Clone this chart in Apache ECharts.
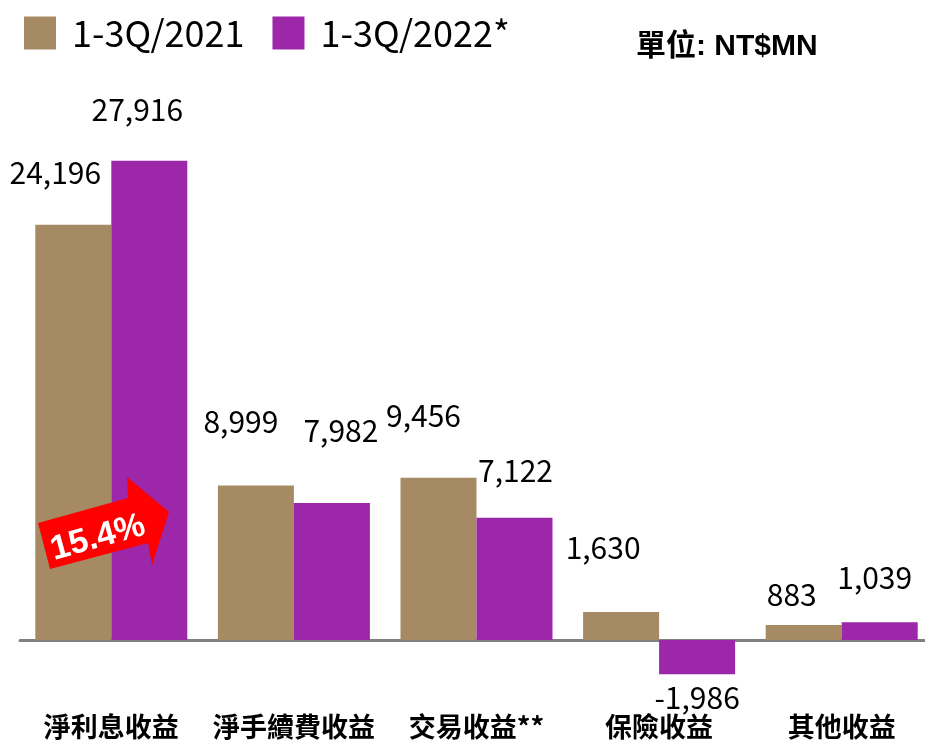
<!DOCTYPE html>
<html>
<head>
<meta charset="utf-8">
<script src="https://cdn.jsdelivr.net/npm/echarts@6/dist/echarts.min.js"></script>
<style>
  html, body { margin: 0; padding: 0; background: #fff; }
  #chart { width: 925px; height: 743px; }
</style>
</head>
<body>
<div id="chart"></div>
<script>
// 數據
var categories = ['淨利息收益', '淨手續費收益', '交易收益**', '保險收益', '其他收益'];
var seriesNames = ['1-3Q/2021', '1-3Q/2022*'];
var values2021 = [24196, 8999, 9456, 1630, 883];
var values2022 = [27916, 7982, 7122, -1986, 1039];

// 標籤位置微調 (跟原圖對齊)
var offsets2021 = [[-18, -37], [-15, -49], [-15, -47], [-18, -49], [-12, -15]];
var offsets2022 = [[-12, -36], [9, -57], [1, -32], [0, 8], [-5, -30]];

var cjk = '"Noto Sans CJK TC", "Noto Sans", sans-serif';

function buildData(vals, offs) {
    return vals.map(function (v, i) {
        return {
            value: v,
            label: {
                position: v < 0 ? 'bottom' : 'top',
                offset: offs[i]
            }
        };
    });
}

var labelStyle = {
    show: true,
    distance: 0,
    color: '#000',
    fontSize: 30,
    fontFamily: cjk,
    formatter: function (p) { return p.value.toLocaleString('en-US'); }
};

var myChart = echarts.init(document.getElementById('chart'));

var option = {
    animation: false,
    backgroundColor: '#fff',
    legend: {
        left: 19,
        top: 10,
        icon: 'rect',
        itemWidth: 32,
        itemHeight: 33,
        itemGap: 28,
        textStyle: { fontSize: 36, color: '#000', fontFamily: cjk, padding: [0, 0, 0, 11] },
        data: seriesNames
    },
    grid: {
        left: 20,
        width: 913,
        top: 125,
        bottom: 60,
        outerBoundsMode: 'none',
        containLabel: false
    },
    xAxis: {
        type: 'category',
        data: categories,
        axisTick: { show: false },
        axisLine: { onZero: true, lineStyle: { color: '#808080', width: 3 } },
        axisLabel: {
            interval: 0,
            margin: 30,
            color: '#000',
            fontSize: 27,
            fontWeight: 'bold',
            fontFamily: cjk
        }
    },
    yAxis: {
        type: 'value',
        min: -2500,
        max: 30000,
        show: false,
        splitLine: { show: false }
    },
    series: [
        {
            name: seriesNames[0],
            type: 'bar',
            barWidth: 76,
            barGap: '0%',
            itemStyle: { color: '#A68A64' },
            label: labelStyle,
            data: buildData(values2021, offsets2021)
        },
        {
            name: seriesNames[1],
            type: 'bar',
            barWidth: 76,
            barGap: '0%',
            itemStyle: { color: '#9C27A9' },
            label: labelStyle,
            data: buildData(values2022, offsets2022)
        }
    ],
    graphic: [
        {
            type: 'text',
            left: 636,
            top: 32,
            style: {
                text: '單位: NT$MN',
                fill: '#000',
                font: 'bold 30px "Liberation Sans", "Noto Sans CJK TC", sans-serif'
            }
        },
        // 紅色箭頭
        {
            type: 'polygon',
            shape: {
                points: [[38, 523], [128, 498], [127, 477], [169, 512], [152, 565], [148, 543], [50, 569]]
            },
            style: { fill: '#FF0000' },
            z: 10
        },
        {
            type: 'text',
            x: 98,
            y: 538,
            rotation: 0.27,
            style: {
                text: '15.4%',
                fill: '#fff',
                font: 'bold 34px "Liberation Sans", Arial, sans-serif',
                align: 'center',
                verticalAlign: 'middle'
            },
            z: 11
        }
    ]
};

myChart.setOption(option);
</script>
</body>
</html>
